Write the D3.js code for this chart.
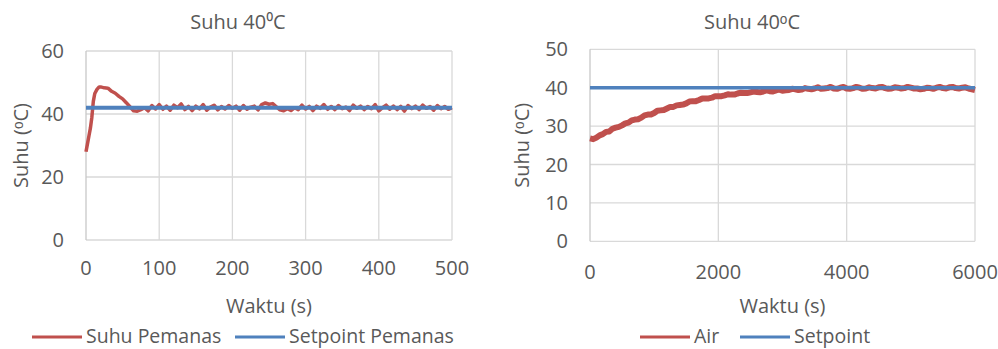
<!DOCTYPE html>
<html>
<head>
<meta charset="utf-8">
<script src="https://cdn.jsdelivr.net/npm/d3@7"></script>
<style>
  body { margin: 0; background: #fff; }
  svg { display: block; font-family: 'Open Sans', sans-serif; }
</style>
</head>
<body>
<svg id="chart" width="998" height="349"></svg>
<script>
// Left panel: heater temperature vs setpoint
const heaterTime = [0, 2, 4, 6, 8, 10, 12, 15, 18, 20, 25, 30, 35, 40, 45, 50, 55, 60, 65, 70,
  75, 80, 85, 90, 95, 100, 105, 110, 115, 120, 125, 130, 135, 140, 145, 150, 155, 160, 165, 170,
  175, 180, 185, 190, 195, 200, 205, 210, 215, 220, 225, 230, 235, 240, 245, 250, 255, 260, 265, 270,
  275, 280, 285, 290, 295, 300, 305, 310, 315, 320, 325, 330, 335, 340, 345, 350, 355, 360, 365, 370,
  375, 380, 385, 390, 395, 400, 405, 410, 415, 420, 425, 430, 435, 440, 445, 450, 455, 460, 465, 470,
  475, 480, 485, 490, 495, 500];
const heaterTemp = [28, 30.5, 33, 35.5, 39, 44, 46.5, 47.8, 48.6, 48.6, 48.3, 48.2, 47.2, 46.6, 45.6, 44.8, 43.6, 42.3, 41.0, 40.9,
  41.4, 42.0, 41.0, 42.7, 41.6, 43.0, 41.5, 42.5, 41.2, 42.8, 42.0, 43.2, 41.4, 42.4, 41.1, 42.5, 41.6, 43.0, 41.2, 42.2,
  42.8, 41.3, 42.4, 41.6, 42.7, 41.8, 42.5, 41.2, 42.7, 41.5, 42.2, 42.5, 41.3, 43.0, 43.5, 43.1, 43.3, 42.3, 41.3, 41.0,
  41.7, 41.1, 42.0, 41.4, 42.8, 41.6, 42.4, 41.1, 42.5, 41.8, 43.0, 41.5, 42.4, 41.4, 42.7, 41.7, 42.2, 41.1, 42.8, 41.8,
  42.5, 41.4, 42.4, 41.7, 43.0, 41.0, 42.0, 42.8, 41.5, 42.5, 41.4, 42.4, 40.9, 42.7, 41.7, 42.5, 41.4, 42.8, 41.8, 42.4,
  41.2, 42.7, 41.7, 42.4, 41.5, 42.0];
const heaterSetpoint = 42;

// Right panel: water temperature vs setpoint
const waterTime = [0, 50, 100, 150, 200, 250, 300, 350, 400, 450, 500, 550, 600, 650, 700, 750, 800, 850, 900, 950,
  1000, 1050, 1100, 1150, 1200, 1250, 1300, 1350, 1400, 1450, 1500, 1550, 1600, 1650, 1700, 1750, 1800, 1850, 1900, 1950,
  2000, 2050, 2100, 2150, 2200, 2250, 2300, 2350, 2400, 2450, 2500, 2550, 2600, 2650, 2700, 2750, 2800, 2850, 2900, 2950,
  3000, 3050, 3100, 3150, 3200, 3250, 3300, 3350, 3400, 3450, 3500, 3550, 3600, 3650, 3700, 3750, 3800, 3850, 3900, 3950,
  4000, 4050, 4100, 4150, 4200, 4250, 4300, 4350, 4400, 4450, 4500, 4550, 4600, 4650, 4700, 4750, 4800, 4850, 4900, 4950,
  5000, 5050, 5100, 5150, 5200, 5250, 5300, 5350, 5400, 5450, 5500, 5550, 5600, 5650, 5700, 5750, 5800, 5850, 5900, 5950,
  6000];
const waterTemp = [26.8, 26.6, 27.0, 27.6, 27.9, 28.5, 28.6, 29.3, 29.6, 29.8, 30.2, 30.7, 30.9, 31.5, 31.7, 31.8, 32.2, 32.8, 33.0, 33.0,
  33.4, 34.0, 34.1, 34.2, 34.6, 35.0, 35.0, 35.4, 35.5, 35.6, 35.9, 36.4, 36.5, 36.5, 36.8, 37.2, 37.2, 37.2, 37.4, 37.8,
  37.8, 37.8, 38.0, 38.3, 38.2, 38.2, 38.5, 38.7, 38.6, 38.6, 38.8, 39.0, 38.9, 38.8, 39.0, 39.3, 39.1, 39.0, 39.3, 39.5,
  39.2, 39.3, 39.4, 39.7, 39.6, 39.4, 39.5, 39.9, 39.7, 39.6, 39.8, 40.1, 39.7, 39.8, 39.9, 40.2, 39.8, 39.7, 40.0, 40.2,
  39.8, 39.7, 39.9, 40.2, 40.0, 39.7, 39.8, 40.1, 39.9, 39.8, 40.1, 40.2, 39.9, 39.7, 39.8, 40.1, 40.0, 39.8, 39.9, 40.2,
  40.0, 39.8, 39.8, 39.6, 39.7, 40.0, 39.9, 39.7, 40.0, 40.2, 39.9, 39.8, 40.1, 40.2, 39.9, 39.8, 40.0, 40.1, 39.8, 39.6,
  39.4];
const waterSetpoint = 40;

// Tick labels
const heaterXTicks = [0, 100, 200, 300, 400, 500];
const heaterYTicks = [0, 20, 40, 60];
const waterXTicks = [0, 2000, 4000, 6000];
const waterYTicks = [0, 10, 20, 30, 40, 50];

const RED = '#c0504d';
const BLUE = '#4f81bd';
const GRID = '#d9d9d9';
const TEXT = '#595959';
const FONT = '20px';

const svg = d3.select('#chart');

function drawPanel(cfg) {
    const x = d3.scaleLinear().domain(cfg.xDomain).range(cfg.xRange);
    const y = d3.scaleLinear().domain(cfg.yDomain).range(cfg.yRange);
    const g = svg.append('g');

    // gridlines
    g.selectAll('.hgrid')
        .data(cfg.yTicks)
        .enter()
        .append('line')
        .attr('x1', x(cfg.xDomain[0]))
        .attr('x2', x(cfg.xDomain[1]))
        .attr('y1', d => y(d))
        .attr('y2', d => y(d))
        .attr('stroke', GRID)
        .attr('stroke-width', 1.3);

    g.selectAll('.vgrid')
        .data(cfg.xTicks)
        .enter()
        .append('line')
        .attr('x1', d => x(d))
        .attr('x2', d => x(d))
        .attr('y1', y(cfg.yDomain[0]))
        .attr('y2', y(cfg.yDomain[1]))
        .attr('stroke', (d, i) => i === 0 ? '#c8c8c8' : GRID)
        .attr('stroke-width', 1.3);

    // tick labels
    g.selectAll('.ylab')
        .data(cfg.yTicks)
        .enter()
        .append('text')
        .attr('x', cfg.yLabelX)
        .attr('y', d => y(d))
        .attr('dy', '0.35em')
        .attr('text-anchor', 'end')
        .attr('font-size', FONT)
        .attr('fill', TEXT)
        .text(d => d);

    g.selectAll('.xlab')
        .data(cfg.xTicks)
        .enter()
        .append('text')
        .attr('x', d => x(d))
        .attr('y', cfg.xLabelY)
        .attr('dy', '0.35em')
        .attr('text-anchor', 'middle')
        .attr('font-size', FONT)
        .attr('fill', TEXT)
        .text(d => d);

    // measured line
    const line = d3.line()
        .x((d, i) => x(cfg.time[i]))
        .y(d => y(d));

    g.append('path')
        .datum(cfg.temp)
        .attr('d', line)
        .attr('fill', 'none')
        .attr('stroke', RED)
        .attr('stroke-width', cfg.redWidth)
        .attr('stroke-linejoin', 'round');

    // setpoint line (drawn over the measured line)
    g.append('line')
        .attr('x1', x(cfg.xDomain[0]))
        .attr('x2', x(cfg.xDomain[1]))
        .attr('y1', y(cfg.setpoint))
        .attr('y2', y(cfg.setpoint))
        .attr('stroke', BLUE)
        .attr('stroke-width', cfg.blueWidth);

    // titles
    g.append('text')
        .attr('x', cfg.titleX)
        .attr('y', 22)
        .attr('dy', '0.35em')
        .attr('text-anchor', 'middle')
        .attr('font-size', FONT)
        .attr('fill', TEXT)
        .text(cfg.title);

    g.append('text')
        .attr('x', (cfg.xRange[0] + cfg.xRange[1]) / 2)
        .attr('y', 306)
        .attr('dy', '0.35em')
        .attr('text-anchor', 'middle')
        .attr('font-size', FONT)
        .attr('fill', TEXT)
        .text('Waktu (s)');

    g.append('text')
        .attr('transform', `translate(${cfg.yTitleX}, ${(cfg.yRange[0] + cfg.yRange[1]) / 2}) rotate(-90)`)
        .attr('dy', '0.35em')
        .attr('text-anchor', 'middle')
        .attr('font-size', FONT)
        .attr('fill', TEXT)
        .text('Suhu (ᵒC)');

    // legend
    const legend = g.selectAll('.legend')
        .data(cfg.legend)
        .enter()
        .append('g')
        .attr('transform', d => `translate(${d.x}, 336)`);

    legend.append('line')
        .attr('x1', 0)
        .attr('x2', 50)
        .attr('y1', 1)
        .attr('y2', 1)
        .attr('stroke', d => d.color)
        .attr('stroke-width', 3);

    legend.append('text')
        .attr('x', 54)
        .attr('dy', '0.35em')
        .attr('font-size', '19.5px')
        .attr('fill', TEXT)
        .text(d => d.name);
}

drawPanel({
    time: heaterTime, temp: heaterTemp, setpoint: heaterSetpoint,
    xDomain: [0, 500], yDomain: [0, 60],
    xRange: [86, 452], yRange: [240, 51],
    xTicks: heaterXTicks, yTicks: heaterYTicks,
    yLabelX: 64, xLabelY: 268, yTitleX: 21, titleX: 238,
    title: 'Suhu 40⁰C', redWidth: 3.5, blueWidth: 4,
    legend: [{ name: 'Suhu Pemanas', color: RED, x: 32 }, { name: 'Setpoint Pemanas', color: BLUE, x: 235 }]
});

drawPanel({
    time: waterTime, temp: waterTemp, setpoint: waterSetpoint,
    xDomain: [0, 6000], yDomain: [0, 50],
    xRange: [590, 975], yRange: [241.3, 49.3],
    xTicks: waterXTicks, yTicks: waterYTicks,
    yLabelX: 568, xLabelY: 272, yTitleX: 522, titleX: 752,
    title: 'Suhu 40ᵒC', redWidth: 6, blueWidth: 3.5,
    legend: [{ name: 'Air', color: RED, x: 640 }, { name: 'Setpoint', color: BLUE, x: 740 }]
});
</script>
</body>
</html>
